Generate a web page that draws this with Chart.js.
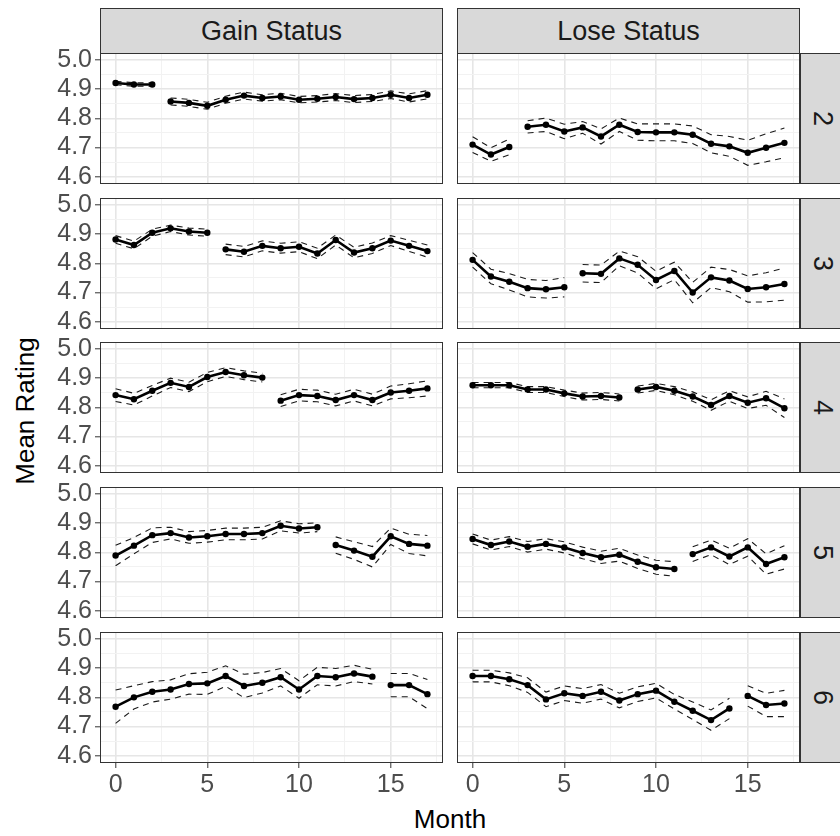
<!DOCTYPE html>
<html>
<head>
<meta charset="utf-8">
<script src="https://cdn.jsdelivr.net/npm/chart.js@4.4.0/dist/chart.umd.min.js"></script>
<style>
body { margin: 0; width: 840px; height: 836px; overflow: hidden; background: #fff; position: relative; font-family: "Liberation Sans", Arial, sans-serif; }
canvas { position: absolute; }
.strip { position: absolute; background: #d9d9d9; border: 1px solid #333; box-sizing: border-box; display: flex; align-items: center; justify-content: center; color: #1a1a1a; font-size: 27px; }
.strip.side span { display: inline-block; transform: rotate(90deg); }
.title { position: absolute; color: #000; font-size: 26px; line-height: 30px; white-space: nowrap; text-align: center; }
</style>
</head>
<body>
<div class="title" style="left:100px; top:804px; width:700px;">Month</div>
<div class="title" style="left:-75px; top:396px; width:200px; transform:rotate(-90deg);">Mean Rating</div>

<script>
// months on the x axis and tick positions
const months = [0, 1, 2, 3, 4, 5, 6, 7, 8, 9, 10, 11, 12, 13, 14, 15, 16, 17];
const xTicks = [0, 2.5, 5, 7.5, 10, 12.5, 15, 17.5];
const yTicks = [4.6, 4.65, 4.7, 4.75, 4.8, 4.85, 4.9, 4.95, 5.0];

const columns = ['Gain Status', 'Lose Status'];
const rowLabels = ['2', '3', '4', '5', '6'];
// the line is broken after this month in each row
const breaks = [2, 5, 8, 11, 14];

// mean rating and half-width of the interval, per panel
const gain2 = [4.921, 4.916, 4.916, 4.858, 4.853, 4.843, 4.864, 4.878, 4.870, 4.875, 4.864, 4.867, 4.873, 4.866, 4.870, 4.881, 4.870, 4.881];
const gain2Err = [0.006, 0.006, 0.006, 0.012, 0.012, 0.012, 0.012, 0.012, 0.011, 0.011, 0.011, 0.011, 0.012, 0.012, 0.012, 0.013, 0.014, 0.014];
const lose2 = [4.710, 4.676, 4.702, 4.771, 4.778, 4.755, 4.769, 4.738, 4.778, 4.753, 4.752, 4.752, 4.744, 4.713, 4.704, 4.682, 4.699, 4.716];
const lose2Err = [0.027, 0.023, 0.027, 0.021, 0.023, 0.025, 0.020, 0.026, 0.023, 0.028, 0.029, 0.029, 0.030, 0.031, 0.034, 0.043, 0.048, 0.051];

const gain3 = [4.882, 4.863, 4.905, 4.920, 4.909, 4.905, 4.848, 4.840, 4.860, 4.852, 4.857, 4.834, 4.880, 4.837, 4.852, 4.878, 4.860, 4.842];
const gain3Err = [0.013, 0.013, 0.012, 0.011, 0.012, 0.012, 0.018, 0.018, 0.017, 0.017, 0.017, 0.018, 0.017, 0.018, 0.018, 0.017, 0.019, 0.021];
const lose3 = [4.812, 4.755, 4.737, 4.715, 4.711, 4.718, 4.766, 4.764, 4.817, 4.795, 4.743, 4.774, 4.700, 4.752, 4.741, 4.712, 4.718, 4.729];
const lose3Err = [0.025, 0.025, 0.028, 0.030, 0.030, 0.033, 0.030, 0.030, 0.025, 0.028, 0.030, 0.030, 0.035, 0.035, 0.038, 0.045, 0.050, 0.055];

const gain4 = [4.842, 4.828, 4.857, 4.884, 4.870, 4.904, 4.921, 4.910, 4.902, 4.823, 4.842, 4.839, 4.825, 4.842, 4.825, 4.851, 4.857, 4.865];
const gain4Err = [0.022, 0.020, 0.018, 0.016, 0.016, 0.016, 0.015, 0.015, 0.015, 0.020, 0.020, 0.020, 0.020, 0.020, 0.020, 0.022, 0.024, 0.026];
const lose4 = [4.876, 4.876, 4.876, 4.861, 4.861, 4.848, 4.837, 4.839, 4.834, 4.861, 4.870, 4.857, 4.837, 4.808, 4.839, 4.816, 4.831, 4.797];
const lose4Err = [0.009, 0.009, 0.009, 0.010, 0.010, 0.011, 0.012, 0.012, 0.012, 0.012, 0.012, 0.014, 0.016, 0.018, 0.018, 0.020, 0.024, 0.032];

const gain5 = [4.789, 4.823, 4.859, 4.866, 4.851, 4.855, 4.863, 4.863, 4.866, 4.891, 4.882, 4.886, 4.825, 4.806, 4.785, 4.855, 4.829, 4.823];
const gain5Err = [0.035, 0.028, 0.025, 0.020, 0.020, 0.020, 0.020, 0.020, 0.020, 0.017, 0.016, 0.015, 0.028, 0.030, 0.035, 0.028, 0.033, 0.035];
const lose5 = [4.846, 4.825, 4.837, 4.819, 4.829, 4.817, 4.798, 4.783, 4.792, 4.768, 4.749, 4.743, 4.794, 4.817, 4.786, 4.817, 4.760, 4.783];
const lose5Err = [0.017, 0.017, 0.017, 0.018, 0.018, 0.019, 0.020, 0.021, 0.022, 0.023, 0.024, 0.025, 0.025, 0.025, 0.028, 0.030, 0.035, 0.040];

const gain6 = [4.768, 4.800, 4.819, 4.827, 4.846, 4.848, 4.873, 4.839, 4.850, 4.869, 4.827, 4.873, 4.869, 4.882, 4.871, 4.842, 4.842, 4.811];
const gain6Err = [0.057, 0.040, 0.035, 0.033, 0.035, 0.038, 0.035, 0.040, 0.035, 0.030, 0.030, 0.030, 0.030, 0.028, 0.025, 0.040, 0.040, 0.050];
const lose6 = [4.873, 4.873, 4.862, 4.842, 4.793, 4.814, 4.805, 4.819, 4.789, 4.811, 4.823, 4.785, 4.754, 4.722, 4.762, 4.805, 4.774, 4.779];
const lose6Err = [0.020, 0.020, 0.022, 0.025, 0.025, 0.025, 0.025, 0.025, 0.025, 0.025, 0.025, 0.025, 0.030, 0.035, 0.035, 0.035, 0.040, 0.045];

const panels = [
  [[gain2, gain2Err], [lose2, lose2Err]],
  [[gain3, gain3Err], [lose3, lose3Err]],
  [[gain4, gain4Err], [lose4, lose4Err]],
  [[gain5, gain5Err], [lose5, lose5Err]],
  [[gain6, gain6Err], [lose6, lose6Err]]
];

// facet grid geometry
const colLeft = [100, 457];
const rowTop = [53, 198, 342, 487, 632];
const panelW = 343, panelH = 131;
const axisW = 60, pad = 12, xAxisH = 50;
const tickFont = { family: '"Liberation Sans", Arial, sans-serif', size: 25 };

function isMajor(v, step) {
  return Math.abs(v / step - Math.round(v / step)) < 1e-6;
}

const panelBorder = {
  id: 'panelBorder',
  afterDraw(chart) {
    const a = chart.chartArea, ctx = chart.ctx;
    ctx.save();
    ctx.strokeStyle = '#333';
    ctx.lineWidth = 1;
    ctx.strokeRect(a.left + 0.5, a.top + 0.5, a.right - a.left - 1, a.bottom - a.top - 1);
    ctx.restore();
  }
};

function addStrip(left, top, w, h, text, side) {
  const d = document.createElement('div');
  d.className = 'strip' + (side ? ' side' : '');
  d.style.left = left + 'px';
  d.style.top = top + 'px';
  d.style.width = w + 'px';
  d.style.height = h + 'px';
  const s = document.createElement('span');
  s.textContent = text;
  d.appendChild(s);
  document.body.appendChild(d);
}

columns.forEach((c, j) => addStrip(colLeft[j], 8, panelW, 46, c, false));
rowLabels.forEach((r, i) => addStrip(800, rowTop[i], 46, panelH, r, true));

panels.forEach((row, i) => {
  row.forEach(([mean, err], j) => {
    const first = j === 0;
    const bottom = i === panels.length - 1;
    const brk = breaks[i];
    const canvas = document.createElement('canvas');
    const w = panelW + (first ? axisW : 0);
    const h = pad + panelH + (bottom ? xAxisH : pad);
    canvas.width = w;
    canvas.height = h;
    canvas.style.left = (colLeft[j] - (first ? axisW : 0)) + 'px';
    canvas.style.top = (rowTop[i] - pad) + 'px';
    document.body.appendChild(canvas);

    const pts = arr => months.map((m, k) => ({ x: m, y: arr[k] }));
    const gap = color => ctx => ctx.p0DataIndex === brk ? 'rgba(0,0,0,0)' : color;
    const band = sign => ({
      data: pts(mean.map((v, k) => v + sign * err[k])),
      borderColor: '#1a1a1a',
      borderWidth: 1.1,
      borderDash: [6, 5],
      pointRadius: 0,
      segment: { borderColor: gap('#1a1a1a') }
    });

    new Chart(canvas, {
      type: 'line',
      data: {
        datasets: [
          {
            data: pts(mean),
            borderColor: '#000',
            borderWidth: 2.6,
            pointRadius: 3.2,
            pointBackgroundColor: '#000',
            pointBorderWidth: 0,
            segment: { borderColor: gap('#000') }
          },
          band(1),
          band(-1)
        ]
      },
      options: {
        responsive: false,
        animation: false,
        devicePixelRatio: 1,
        layout: { autoPadding: false, padding: { top: pad, bottom: bottom ? 0 : pad, left: 0, right: 0 } },
        plugins: { legend: { display: false }, tooltip: { enabled: false } },
        scales: {
          x: {
            type: 'linear',
            min: -0.85,
            max: 17.85,
            afterBuildTicks: s => { s.ticks = xTicks.map(v => ({ value: v })); },
            afterFit: s => { s.height = bottom ? xAxisH : 0; s.paddingLeft = 0; s.paddingRight = 0; },
            border: { display: false },
            grid: {
              color: ctx => isMajor(ctx.tick.value, 5) ? '#e6e6e6' : '#f2f2f2',
              lineWidth: ctx => isMajor(ctx.tick.value, 5) ? 1.6 : 1,
              drawTicks: bottom,
              tickLength: 5,
              tickWidth: 1,
              tickColor: ctx => isMajor(ctx.tick.value, 5) ? '#333' : 'rgba(0,0,0,0)'
            },
            ticks: {
              display: bottom,
              autoSkip: false,
              maxRotation: 0,
              padding: 2,
              color: '#4d4d4d',
              font: tickFont,
              callback: v => isMajor(v, 5) ? String(v) : ''
            }
          },
          y: {
            min: 4.575,
            max: 5.024,
            afterBuildTicks: s => { s.ticks = yTicks.map(v => ({ value: v })); },
            afterFit: s => { s.width = first ? axisW : 0; s.paddingTop = 0; s.paddingBottom = 0; },
            border: { display: false },
            grid: {
              color: ctx => isMajor(ctx.tick.value, 0.1) ? '#e6e6e6' : '#f2f2f2',
              lineWidth: ctx => isMajor(ctx.tick.value, 0.1) ? 1.6 : 1,
              drawTicks: first,
              tickLength: 5,
              tickWidth: 1,
              tickColor: ctx => isMajor(ctx.tick.value, 0.1) ? '#333' : 'rgba(0,0,0,0)'
            },
            ticks: {
              display: first,
              autoSkip: false,
              padding: 3,
              color: '#4d4d4d',
              font: tickFont,
              callback: v => isMajor(v, 0.1) ? v.toFixed(1) : ''
            }
          }
        }
      },
      plugins: [panelBorder]
    });
  });
});
</script>
</body>
</html>
